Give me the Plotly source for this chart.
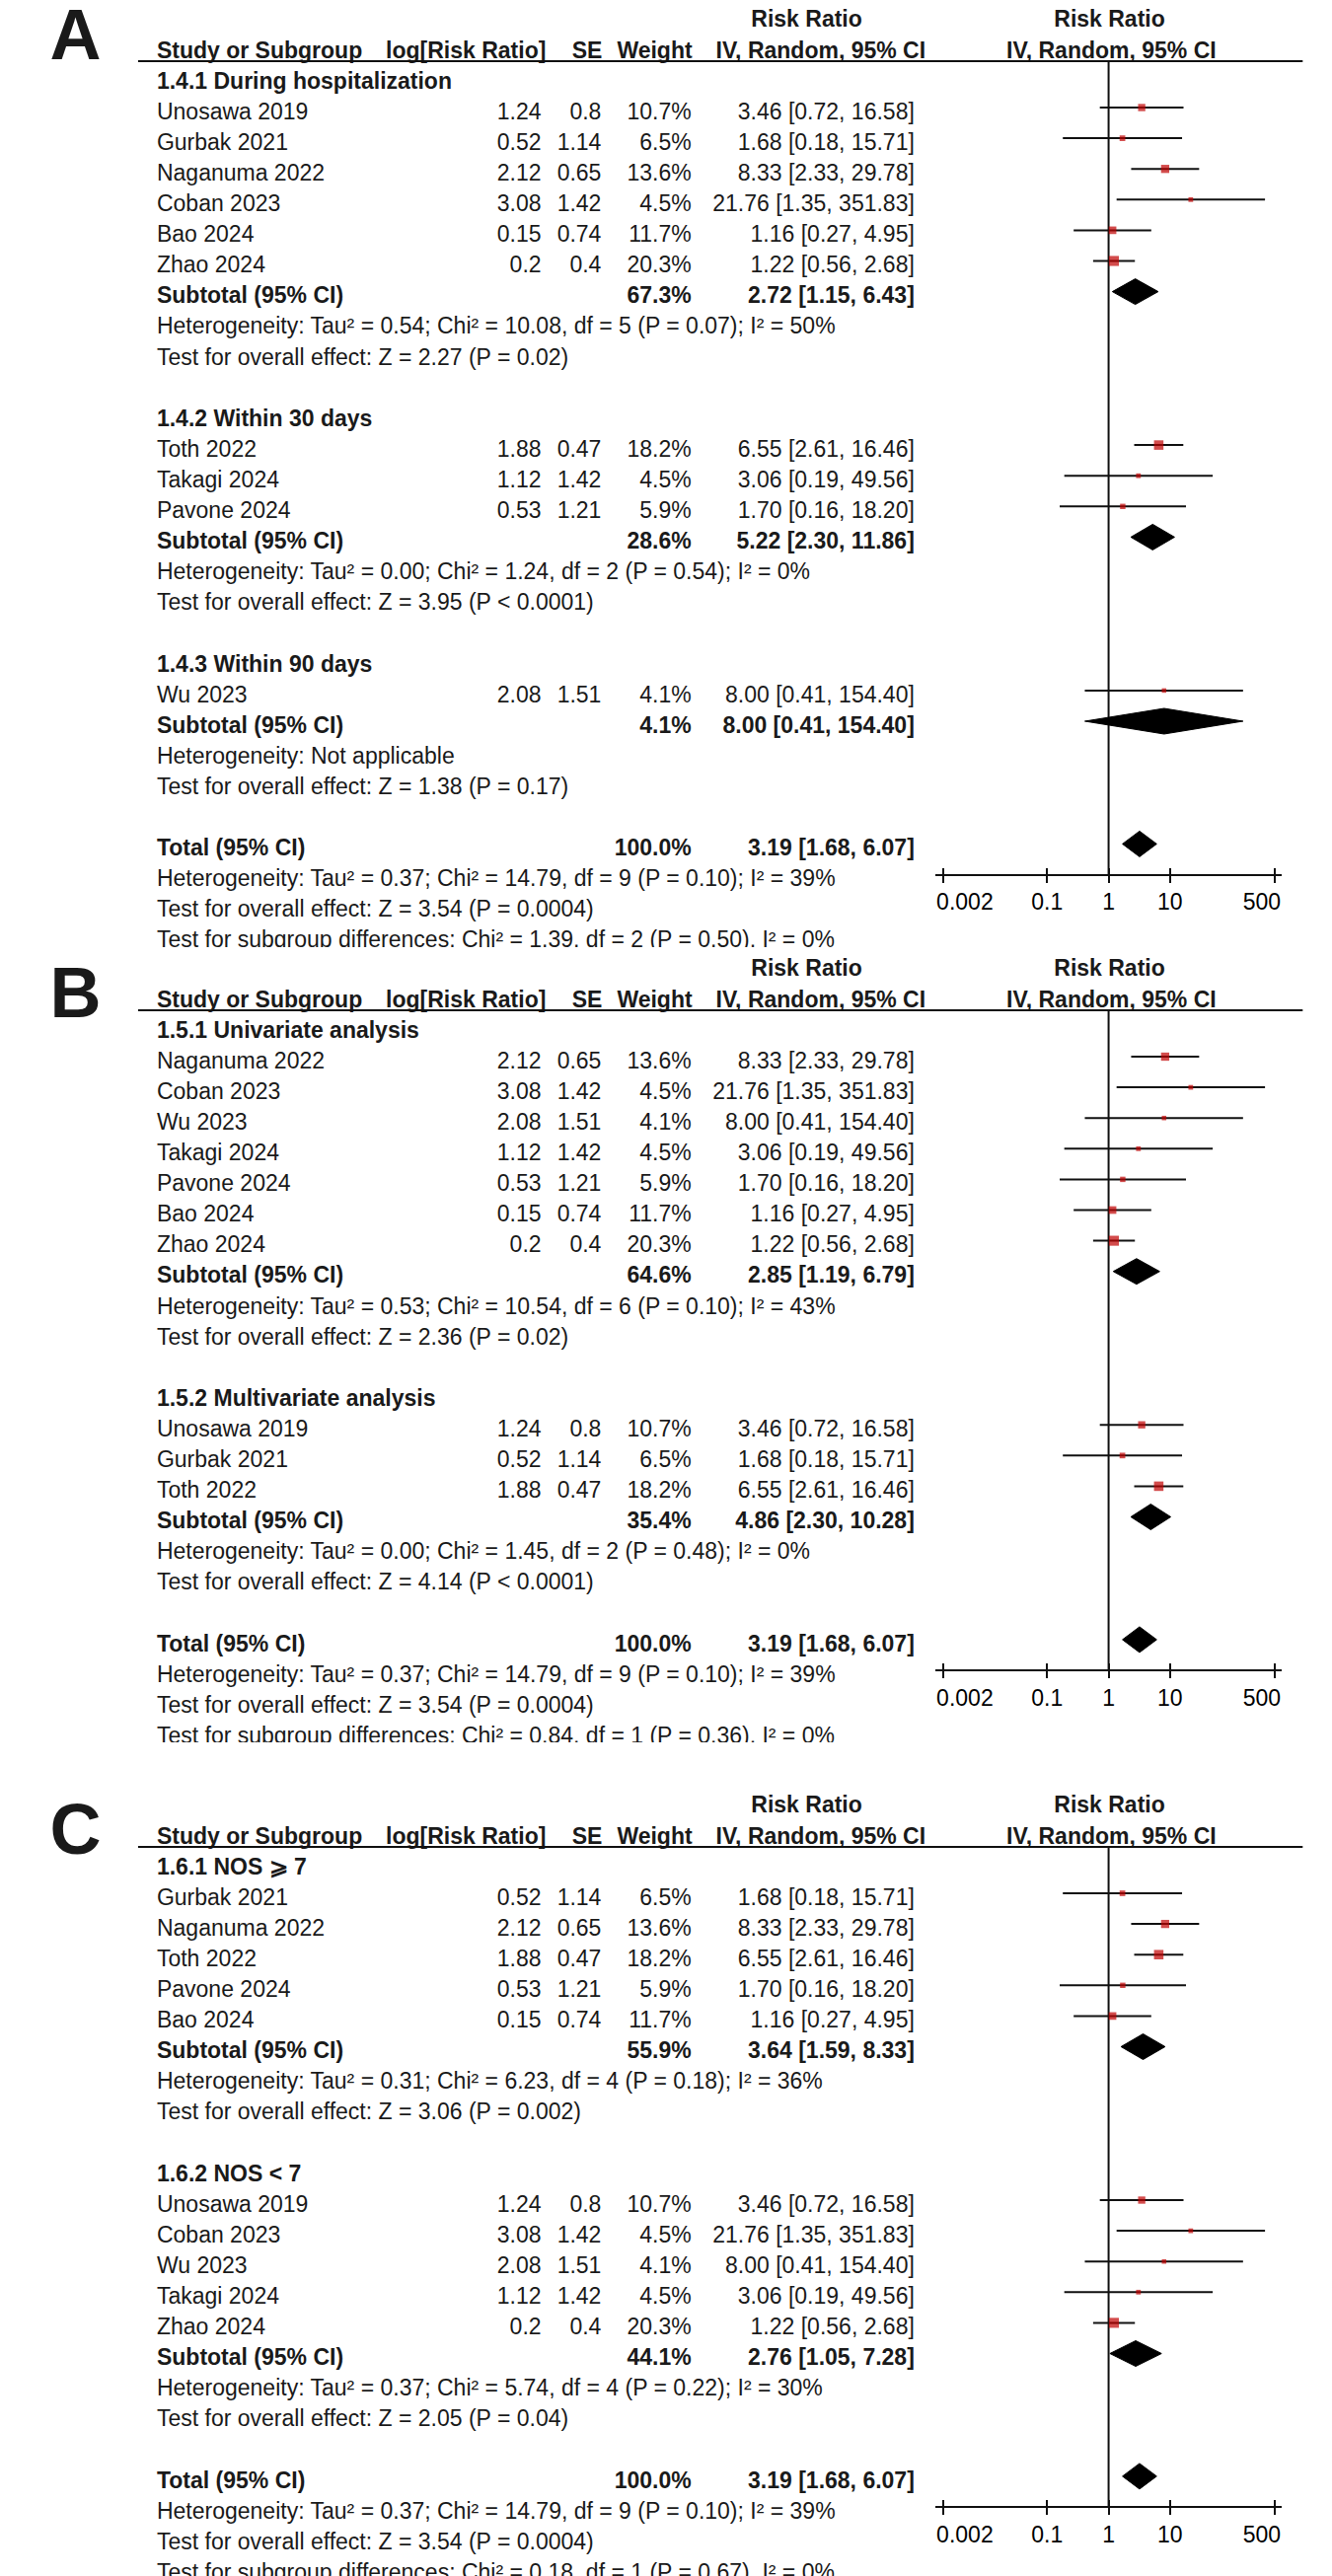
import math
import plotly.graph_objects as go

W, H = 1350, 2611
FONT = "Liberation Sans, Arial, Helvetica, sans-serif"
FS = 23
TXT = "#1a1a1a"
LINE = "#111111"
RED = "#C00000"

# ---------------- data ----------------
study = ["Unosawa 2019", "Gurbak 2021", "Naganuma 2022", "Coban 2023", "Bao 2024",
         "Zhao 2024", "Toth 2022", "Takagi 2024", "Pavone 2024", "Wu 2023"]
log_rr = [1.24, 0.52, 2.12, 3.08, 0.15, 0.2, 1.88, 1.12, 0.53, 2.08]
se = [0.8, 1.14, 0.65, 1.42, 0.74, 0.4, 0.47, 1.42, 1.21, 1.51]
weight = [10.7, 6.5, 13.6, 4.5, 11.7, 20.3, 18.2, 4.5, 5.9, 4.1]
rr = [3.46, 1.68, 8.33, 21.76, 1.16, 1.22, 6.55, 3.06, 1.70, 8.00]
rr_lo = [0.72, 0.18, 2.33, 1.35, 0.27, 0.56, 2.61, 0.19, 0.16, 0.41]
rr_hi = [16.58, 15.71, 29.78, 351.83, 4.95, 2.68, 16.46, 49.56, 18.20, 154.40]

total_weight = 100.0
total_rr, total_lo, total_hi = 3.19, 1.68, 6.07
total_het = "Heterogeneity: Tau² = 0.37; Chi² = 14.79, df = 9 (P = 0.10); I² = 39%"
total_test = "Test for overall effect: Z = 3.54 (P = 0.0004)"

tick_vals = [0.002, 0.1, 1, 10, 500]
tick_text = ["\u00a0" * 7 + "0.002", "0.1", "1", "10", "500" + "\u00a0" * 4]

# Panel A
a_titles = ["1.4.1 During hospitalization", "1.4.2 Within 30 days", "1.4.3 Within 90 days"]
a_members = [["Unosawa 2019", "Gurbak 2021", "Naganuma 2022", "Coban 2023", "Bao 2024", "Zhao 2024"],
             ["Toth 2022", "Takagi 2024", "Pavone 2024"],
             ["Wu 2023"]]
a_sub_w = [67.3, 28.6, 4.1]
a_sub_rr = [2.72, 5.22, 8.00]
a_sub_lo = [1.15, 2.30, 0.41]
a_sub_hi = [6.43, 11.86, 154.40]
a_het = ["Heterogeneity: Tau² = 0.54; Chi² = 10.08, df = 5 (P = 0.07); I² = 50%",
         "Heterogeneity: Tau² = 0.00; Chi² = 1.24, df = 2 (P = 0.54); I² = 0%",
         "Heterogeneity: Not applicable"]
a_test = ["Test for overall effect: Z = 2.27 (P = 0.02)",
          "Test for overall effect: Z = 3.95 (P < 0.0001)",
          "Test for overall effect: Z = 1.38 (P = 0.17)"]
a_diff = "Test for subgroup differences: Chi² = 1.39, df = 2 (P = 0.50), I² = 0%"

# Panel B
b_titles = ["1.5.1 Univariate analysis", "1.5.2 Multivariate analysis"]
b_members = [["Naganuma 2022", "Coban 2023", "Wu 2023", "Takagi 2024", "Pavone 2024", "Bao 2024", "Zhao 2024"],
             ["Unosawa 2019", "Gurbak 2021", "Toth 2022"]]
b_sub_w = [64.6, 35.4]
b_sub_rr = [2.85, 4.86]
b_sub_lo = [1.19, 2.30]
b_sub_hi = [6.79, 10.28]
b_het = ["Heterogeneity: Tau² = 0.53; Chi² = 10.54, df = 6 (P = 0.10); I² = 43%",
         "Heterogeneity: Tau² = 0.00; Chi² = 1.45, df = 2 (P = 0.48); I² = 0%"]
b_test = ["Test for overall effect: Z = 2.36 (P = 0.02)",
          "Test for overall effect: Z = 4.14 (P < 0.0001)"]
b_diff = "Test for subgroup differences: Chi² = 0.84, df = 1 (P = 0.36), I² = 0%"

# Panel C
c_titles = ["1.6.1 NOS \u2a7e 7", "1.6.2 NOS < 7"]
c_members = [["Gurbak 2021", "Naganuma 2022", "Toth 2022", "Pavone 2024", "Bao 2024"],
             ["Unosawa 2019", "Coban 2023", "Wu 2023", "Takagi 2024", "Zhao 2024"]]
c_sub_w = [55.9, 44.1]
c_sub_rr = [3.64, 2.76]
c_sub_lo = [1.59, 1.05]
c_sub_hi = [8.33, 7.28]
c_het = ["Heterogeneity: Tau² = 0.31; Chi² = 6.23, df = 4 (P = 0.18); I² = 36%",
         "Heterogeneity: Tau² = 0.37; Chi² = 5.74, df = 4 (P = 0.22); I² = 30%"]
c_test = ["Test for overall effect: Z = 3.06 (P = 0.002)",
          "Test for overall effect: Z = 2.05 (P = 0.04)"]
c_diff = "Test for subgroup differences: Chi² = 0.18, df = 1 (P = 0.67), I² = 0%"

# ---------------- layout constants ----------------
STEP = 31.1          # px per row
TOFF = 6 / STEP      # text centre sits slightly below the mark line
DIAM_H = 13 / STEP   # diamond half height
SQ = 2.25            # square side = SQ*sqrt(weight)
UL = -47 / STEP      # header underline (rows)
X_NAME, X_LOG, X_SE, X_W, X_CI = 122, 532, 596, 692, 930
FX0, FX1 = 952, 1322
HALF_RANGE = 2.824
LABEL_FS = 72

panels = [
    dict(label="A", base=109, top=0, clip=960, label_px=42,
         titles=a_titles, members=a_members, sw=a_sub_w, srr=a_sub_rr, slo=a_sub_lo, shi=a_sub_hi,
         het=a_het, test=a_test, diff=a_diff),
    dict(label="B", base=1071, top=962, clip=1766, label_px=1013,
         titles=b_titles, members=b_members, sw=b_sub_w, srr=b_sub_rr, slo=b_sub_lo, shi=b_sub_hi,
         het=b_het, test=b_test, diff=b_diff),
    dict(label="C", base=1919, top=1768, clip=H, label_px=1861,
         titles=c_titles, members=c_members, sw=c_sub_w, srr=c_sub_rr, slo=c_sub_lo, shi=c_sub_hi,
         het=c_het, test=c_test, diff=c_diff),
]

idx = {n: i for i, n in enumerate(study)}


def fmt_w(v):
    return f"{v:.1f}%"


def fmt_ci(r, lo, hi):
    return f"{r:.2f} [{lo:.2f}, {hi:.2f}]"


def ax_key(kind, n):
    return f"{kind}axis" if n == 1 else f"{kind}axis{n}"


def ax_ref(kind, n):
    return kind if n == 1 else f"{kind}{n}"


fig = go.Figure()
layout = {}
shapes = []

for p, P in enumerate(panels):
    nt, nf, no, ny = 3 * p + 1, 3 * p + 2, 3 * p + 3, p + 1
    tx, fx, ox, ty = ax_ref("x", nt), ax_ref("x", nf), ax_ref("x", no), ax_ref("y", ny)
    base = P["base"]

    def K(px, base=base):
        return (px - base) / STEP

    texts = {}

    def add(x, k, s, align, bold=False, size=FS, clip=True):
        key = (align, bold, size, clip)
        d = texts.setdefault(key, ([], [], []))
        d[0].append(x)
        d[1].append(k + TOFF)
        d[2].append(s)

    # headers
    add(815, -3, "Risk Ratio", "center", True)
    add(1138, -3, "Risk Ratio", "center", True)
    add(X_NAME, -2, "Study or Subgroup", "left", True)
    add(537, -2, "log[Risk Ratio]", "right", True)
    add(597, -2, "SE", "right", True)
    add(693, -2, "Weight", "right", True)
    add(830, -2, "IV, Random, 95% CI", "center", True)
    add(1140, -2, "IV, Random, 95% CI", "center", True)
    add(8, K(P["label_px"]) - TOFF, P["label"], "left", True, LABEL_FS, False)

    ci_x, ci_y, sq_x, sq_y, sq_s = [], [], [], [], []
    diamonds = []
    k = -1
    for g, title in enumerate(P["titles"]):
        add(X_NAME, k, title, "left", True)
        k += 1
        for name in P["members"][g]:
            i = idx[name]
            add(X_NAME, k, name, "left")
            add(X_LOG, k, f"{log_rr[i]:g}", "right")
            add(X_SE, k, f"{se[i]:g}", "right")
            add(X_W, k, fmt_w(weight[i]), "right")
            add(X_CI, k, fmt_ci(rr[i], rr_lo[i], rr_hi[i]), "right")
            ci_x += [rr_lo[i], rr_hi[i], None]
            ci_y += [k, k, None]
            sq_x.append(rr[i])
            sq_y.append(k)
            sq_s.append(SQ * math.sqrt(weight[i]))
            k += 1
        add(X_NAME, k, "Subtotal (95% CI)", "left", True)
        add(X_W, k, fmt_w(P["sw"][g]), "right", True)
        add(X_CI, k, fmt_ci(P["srr"][g], P["slo"][g], P["shi"][g]), "right", True)
        diamonds.append((P["srr"][g], P["slo"][g], P["shi"][g], k))
        k += 1
        add(X_NAME, k, P["het"][g], "left")
        k += 1
        add(X_NAME, k, P["test"][g], "left")
        k += 2
    k_total = k
    add(X_NAME, k, "Total (95% CI)", "left", True)
    add(X_W, k, fmt_w(total_weight), "right", True)
    add(X_CI, k, fmt_ci(total_rr, total_lo, total_hi), "right", True)
    diamonds.append((total_rr, total_lo, total_hi, k))
    add(X_NAME, k + 1, total_het, "left")
    add(X_NAME, k + 2, total_test, "left")
    add(X_NAME, k + 3, P["diff"], "left")
    k_axis = k_total + 1
    axis_px = base + k_axis * STEP

    # text traces
    for (align, bold, size, clip), (xs, ys, ts) in texts.items():
        fig.add_trace(go.Scatter(
            x=xs, y=ys, text=ts, mode="text",
            textposition={"left": "middle right", "right": "middle left", "center": "middle center"}[align],
            textfont=dict(family=FONT, size=size, color=TXT, weight="bold" if bold else "normal"),
            xaxis=tx, yaxis=ty, hoverinfo="skip", cliponaxis=clip, showlegend=False))

    # vertical line of no effect
    fig.add_trace(go.Scatter(x=[1, 1], y=[UL, k_axis], mode="lines",
                             line=dict(color=LINE, width=2), xaxis=fx, yaxis=ty,
                             hoverinfo="skip", showlegend=False))
    # CI lines
    fig.add_trace(go.Scatter(x=ci_x, y=ci_y, mode="lines", line=dict(color=LINE, width=2),
                             xaxis=fx, yaxis=ty, hoverinfo="skip", showlegend=False))
    # squares
    fig.add_trace(go.Scatter(x=sq_x, y=sq_y, mode="markers",
                             marker=dict(symbol="square", size=sq_s, color=RED, line=dict(width=0)),
                             xaxis=fx, yaxis=ty, hoverinfo="skip", showlegend=False))
    # diamonds
    for (r, lo, hi, kd) in diamonds:
        fig.add_trace(go.Scatter(x=[lo, r, hi, r, lo], y=[kd, kd - DIAM_H, kd, kd + DIAM_H, kd],
                                 mode="lines", fill="toself", fillcolor="black",
                                 line=dict(color="black", width=1), xaxis=fx, yaxis=ty,
                                 hoverinfo="skip", showlegend=False))
    # dummy for overlay tick axis
    fig.add_trace(go.Scatter(x=[1], y=[k_axis], mode="markers", marker=dict(opacity=0, size=1),
                             xaxis=ox, yaxis=ty, hoverinfo="skip", showlegend=False))

    y_dom = [1 - P["clip"] / H, 1 - P["top"] / H]
    layout[ax_key("x", nt)] = dict(domain=[0, 1], range=[0, W], visible=False, anchor=ty, fixedrange=True)
    layout[ax_key("y", ny)] = dict(domain=y_dom, range=[K(P["clip"]), K(P["top"])], visible=False,
                                  anchor=tx, fixedrange=True)
    common = dict(type="log", domain=[FX0 / W, FX1 / W], range=[-HALF_RANGE, HALF_RANGE],
                  anchor="free", position=1 - axis_px / H, showgrid=False, zeroline=False,
                  tickvals=tick_vals, fixedrange=True)
    layout[ax_key("x", nf)] = dict(common, showline=True, linewidth=2, linecolor=LINE,
                                  ticks="outside", ticklen=7, tickwidth=2, tickcolor=LINE,
                                  ticktext=tick_text,
                                  tickfont=dict(family=FONT, size=FS, color="black"))
    layout[ax_key("x", no)] = dict(common, overlaying=fx, showline=False,
                                  ticks="inside", ticklen=7, tickwidth=2, tickcolor=LINE,
                                  showticklabels=False)
    shapes.append(dict(type="line", xref=tx, yref=ty, x0=102, x1=1344, y0=UL, y1=UL,
                       line=dict(color=LINE, width=2)))

fig.update_layout(**layout)
fig.update_layout(width=W, height=H, margin=dict(l=0, r=0, t=0, b=0),
                  paper_bgcolor="white", plot_bgcolor="rgba(0,0,0,0)",
                  showlegend=False, shapes=shapes, hovermode=False)

fig.write_html("out.html", config={"displayModeBar": False, "staticPlot": True},
               post_script="document.body.style.margin='0';")
